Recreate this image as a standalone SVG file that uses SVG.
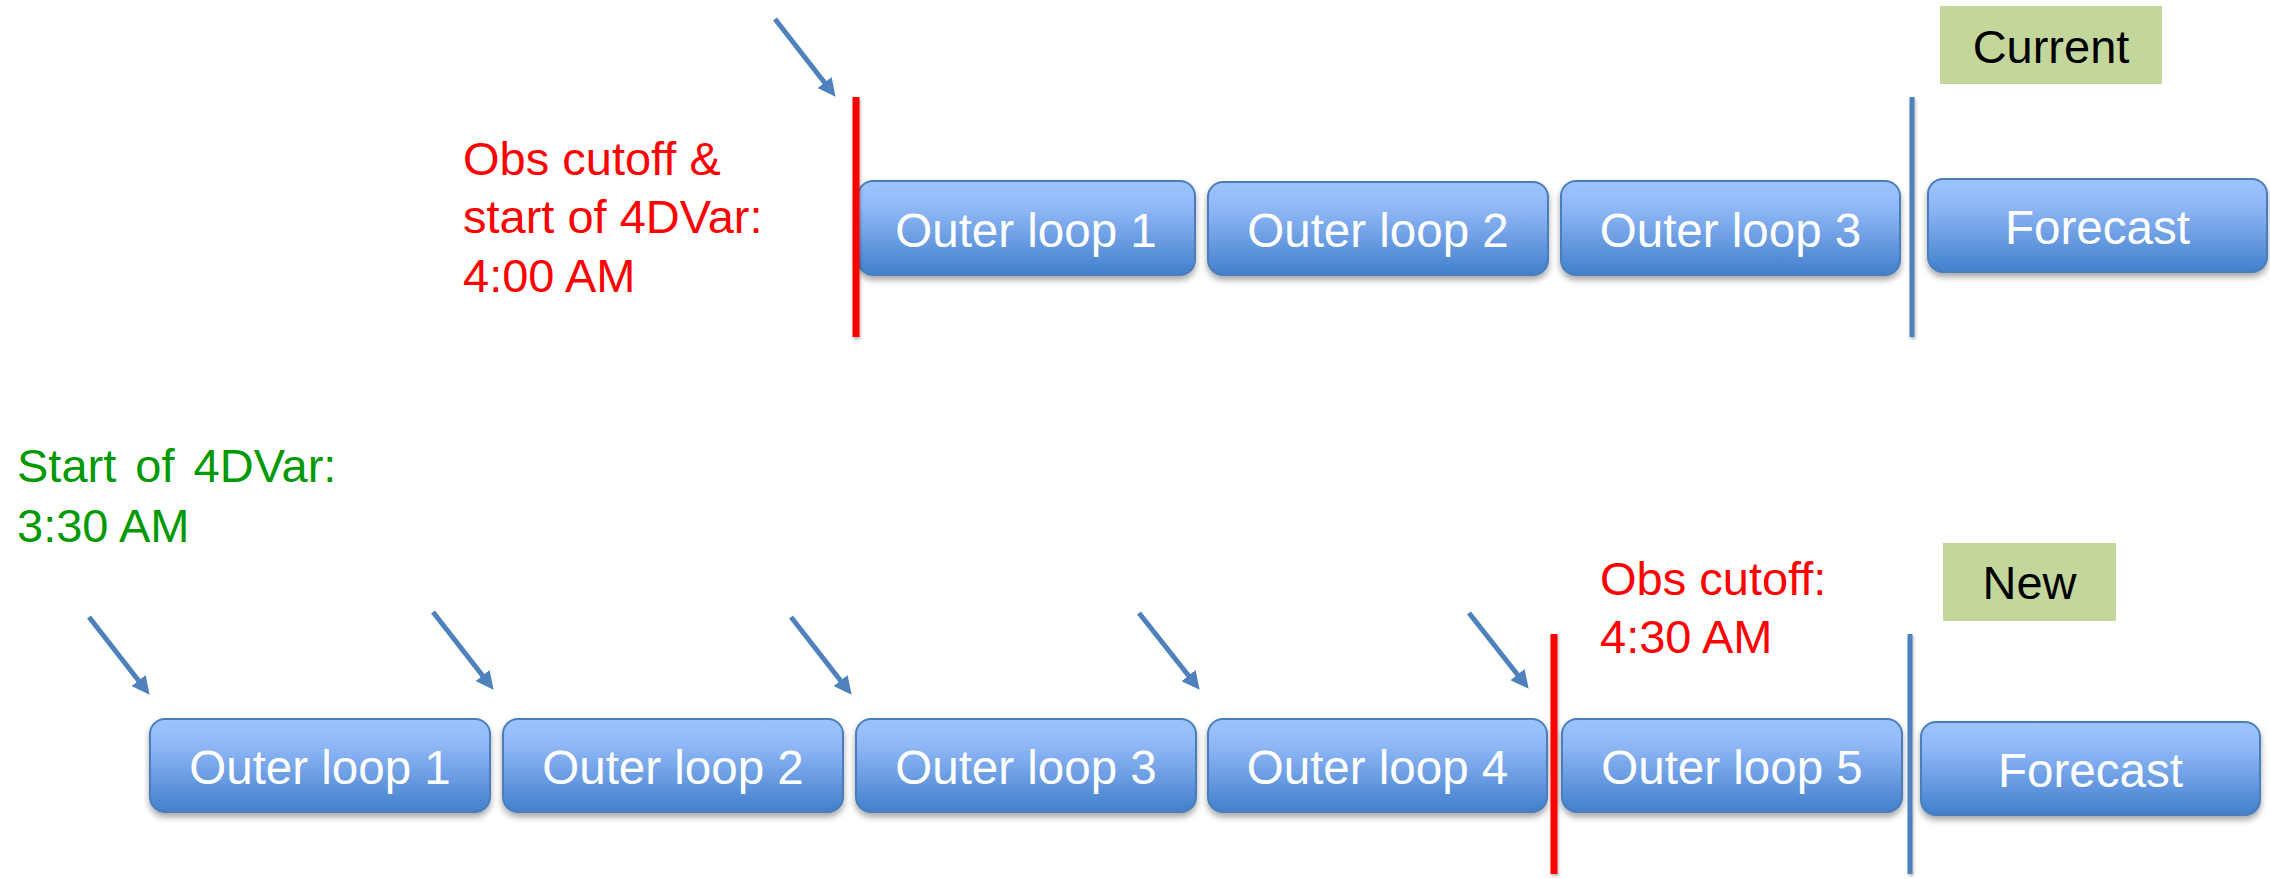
<svg xmlns="http://www.w3.org/2000/svg" width="2270" height="879" viewBox="0 0 2270 879">
<style>
.box{fill:url(#g);stroke:#4A7EBB;stroke-width:2;filter:url(#sh)}
.bt{font-family:"Liberation Sans",Arial,sans-serif;font-size:47.5px;fill:#fff;text-anchor:middle}
.tag{fill:#C3D69B}
.tt{font-family:"Liberation Sans",Arial,sans-serif;font-size:47px;fill:#000;text-anchor:middle}
.red{font-family:"Liberation Sans",Arial,sans-serif;font-size:47px;fill:#FF0000}
.grn{font-family:"Liberation Sans",Arial,sans-serif;font-size:47px;fill:#009900}
.ws{word-spacing:6px}
.arr{stroke:#4F81BD;stroke-width:5;fill:none;marker-end:url(#ah)}
.rl{fill:#FF0000;filter:url(#ls)}
.bl{fill:#4F81BD;filter:url(#ls)}
</style>
<defs>
<linearGradient id="g" x1="0" y1="0" x2="0" y2="1">
<stop offset="0" stop-color="#9DC3FF"/>
<stop offset="0.25" stop-color="#93BAF8"/>
<stop offset="1" stop-color="#427FCC"/>
</linearGradient>
<filter id="sh" x="-10%" y="-20%" width="120%" height="150%">
<feDropShadow dx="0" dy="4" stdDeviation="3" flood-color="#000" flood-opacity="0.35"/>
</filter>
<filter id="ls" x="-200%" y="-5%" width="500%" height="110%">
<feDropShadow dx="1" dy="2" stdDeviation="1.5" flood-color="#000" flood-opacity="0.3"/>
</filter>
<marker id="ah" viewBox="0 0 18 18" refX="5" refY="9" markerWidth="18" markerHeight="18" markerUnits="userSpaceOnUse" orient="auto">
<path d="M0,0 L18,9 L0,18 z" fill="#4F81BD"/>
</marker>
</defs>
<rect width="2270" height="879" fill="#fff"/>

<g id="tag-current"><rect class="tag" x="1940" y="6" width="222" height="78"/><text class="tt" x="2051" y="63">Current</text></g>
<g id="tag-new"><rect class="tag" x="1943" y="543" width="173" height="78"/><text class="tt" x="2029.5" y="599">New</text></g>

<g id="label-top"><text class="red"><tspan x="463" y="175">Obs cutoff &amp;</tspan><tspan x="463" y="233">start of 4DVar:</tspan><tspan x="463" y="292">4:00 AM</tspan></text></g>
<g id="label-start"><text class="grn"><tspan class="ws" x="17" y="482">Start of 4DVar:</tspan><tspan x="17" y="542">3:30 AM</tspan></text></g>
<g id="label-cutoff"><text class="red"><tspan x="1600" y="595">Obs cutoff:</tspan><tspan x="1600" y="653">4:30 AM</tspan></text></g>

<g id="top-ol1"><rect class="box" x="858" y="181" width="337" height="94" rx="15"/><text class="bt" x="1026" y="247">Outer loop 1</text></g>
<g id="top-ol2"><rect class="box" x="1208" y="182" width="340" height="93" rx="15"/><text class="bt" x="1378" y="247">Outer loop 2</text></g>
<g id="top-ol3"><rect class="box" x="1561" y="181" width="339" height="94" rx="15"/><text class="bt" x="1730.5" y="247">Outer loop 3</text></g>
<g id="top-fc"><rect class="box" x="1928" y="179" width="339" height="93" rx="15"/><text class="bt" x="2097.5" y="244">Forecast</text></g>

<g id="bot-ol1"><rect class="box" x="150" y="719" width="340" height="93" rx="15"/><text class="bt" x="320" y="784">Outer loop 1</text></g>
<g id="bot-ol2"><rect class="box" x="503" y="719" width="340" height="93" rx="15"/><text class="bt" x="673" y="784">Outer loop 2</text></g>
<g id="bot-ol3"><rect class="box" x="856" y="719" width="340" height="93" rx="15"/><text class="bt" x="1026" y="784">Outer loop 3</text></g>
<g id="bot-ol4"><rect class="box" x="1208" y="719" width="339" height="93" rx="15"/><text class="bt" x="1377.5" y="784">Outer loop 4</text></g>
<g id="bot-ol5"><rect class="box" x="1562" y="719" width="340" height="93" rx="15"/><text class="bt" x="1732" y="784">Outer loop 5</text></g>
<g id="bot-fc"><rect class="box" x="1921" y="722" width="339" height="93" rx="15"/><text class="bt" x="2090.5" y="787">Forecast</text></g>

<g id="connectors">
<rect class="rl" x="852.5" y="97" width="7" height="240"/>
<rect class="bl" x="1909.5" y="97" width="5" height="240"/>
<rect class="rl" x="1550.5" y="634" width="7" height="240"/>
<rect class="bl" x="1907.5" y="634" width="5" height="240"/>
<line class="arr" x1="775" y1="19" x2="827.6" y2="86.5"/>
<line class="arr" x1="89" y1="617" x2="141.6" y2="684.5"/>
<line class="arr" x1="433" y1="612" x2="485.6" y2="679.5"/>
<line class="arr" x1="791" y1="617" x2="843.6" y2="684.5"/>
<line class="arr" x1="1139" y1="613" x2="1191.6" y2="679.5"/>
<line class="arr" x1="1469" y1="613" x2="1520.6" y2="678.5"/>
</g>
</svg>
